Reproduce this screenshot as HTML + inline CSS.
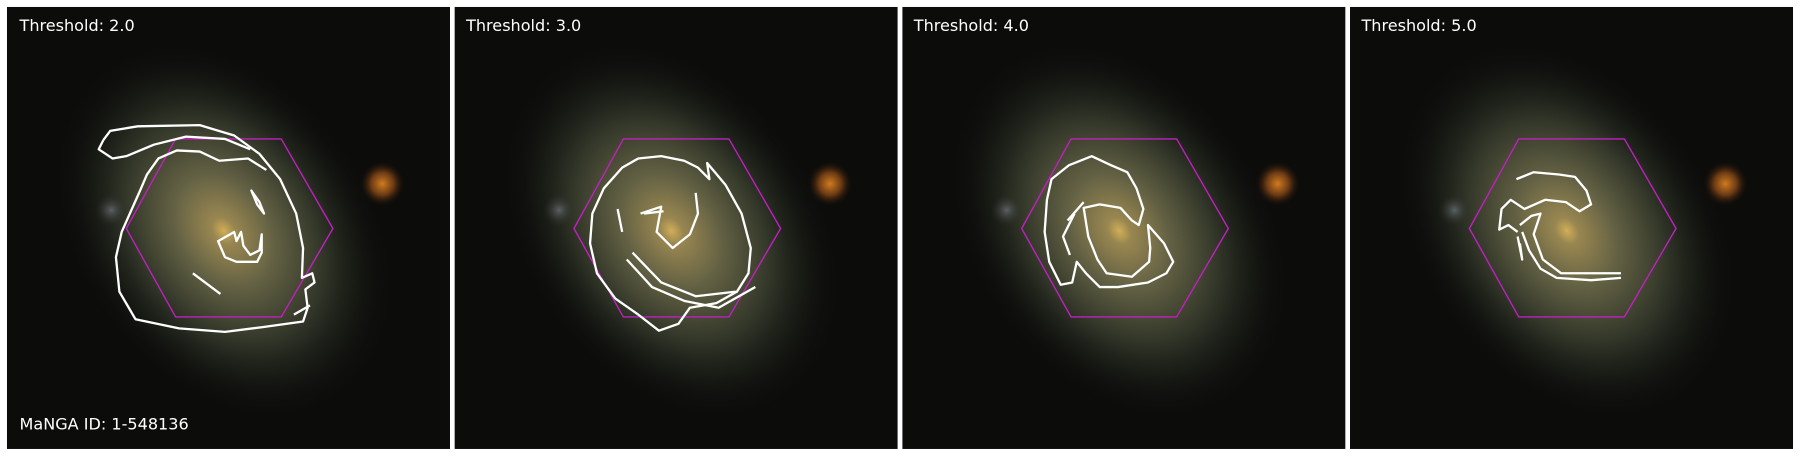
<!DOCTYPE html>
<html><head><meta charset="utf-8"><style>
html,body{margin:0;padding:0;background:#fff;width:1800px;height:457px;overflow:hidden}
svg{display:block}
text{font-family:"DejaVu Sans","Liberation Sans",sans-serif;fill:#fff}
</style></head><body>
<svg width="1800" height="457" viewBox="0 0 1568 398" preserveAspectRatio="none">
<defs>
<clipPath id="pc"><rect x="0" y="0" width="386" height="385"/></clipPath>
<radialGradient id="glow" cx="50%" cy="50%" r="50%">
<stop offset="0" stop-color="#e8c060"/>
<stop offset="0.07" stop-color="#a89458"/>
<stop offset="0.3" stop-color="#6c6a4a"/>
<stop offset="0.6" stop-color="#33382a"/>
<stop offset="1" stop-color="#0e100c" stop-opacity="0"/>
</radialGradient>
<radialGradient id="comp" cx="50%" cy="50%" r="50%">
<stop offset="0" stop-color="#d07a20"/>
<stop offset="0.5" stop-color="#6a3a14"/>
<stop offset="1" stop-color="#100a06" stop-opacity="0"/>
</radialGradient>
<radialGradient id="blue" cx="50%" cy="50%" r="50%">
<stop offset="0" stop-color="#5a6262"/>
<stop offset="1" stop-color="#2a2e28" stop-opacity="0"/>
</radialGradient>
<g id="sky" stroke="none" clip-path="url(#pc)">
<rect x="0" y="0" width="386" height="385" fill="#0c0c0b" stroke="none"/>
<ellipse cx="189" cy="195" rx="180" ry="130" transform="rotate(55 189 195)" fill="url(#glow)" opacity="0.9" stroke="none"/>
<circle cx="91" cy="177" r="14" fill="url(#blue)" stroke="none"/>
<circle cx="327" cy="154" r="20" fill="url(#comp)" stroke="none"/>
<polygon points="104,193 147,115 239,115 284,193 239,270 147,270" fill="none" stroke="#c020c0" stroke-width="1.2"/>
</g>
</defs>
<g fill="none" stroke="#fff" stroke-width="2" stroke-linejoin="round">
<g transform="translate(6,6)">
<use href="#sky"/>
<path d="M84,116 L90,108 L114,104 L168,103 L198,112 L220,128 L238,150 L252,180 L258,210 L257,236 L266,232 L268,240 L260,246 L262,262 L258,274 L222,279 L190,283 L150,280 L112,272 L98,248 L95,218 L100,196 L108,178 L116,160 L122,146 L132,132 L148,125 L168,126 L185,134 L210,132 L226,142"/>
<path d="M84,116 L80,124 L92,132 L104,130 L128,120 L156,113 L190,115 L212,124"/>
<path d="M162,232 L186,250"/><path d="M250,268 L264,260"/>
<path d="M213,160 L220,170 L224,180 L218,172 Z"/>
<path d="M184,204 L198,196 L200,204 L204,196 L206,208 L212,216 L220,212 L222,198 L222,214 L218,222 L200,222 L190,218 Z"/>
</g>
<g transform="translate(396,6)">
<use href="#sky"/>
<path d="M146,140 L160,132 L180,130 L200,134 L212,140 L222,150 L220,136 L236,155 L250,180 L258,210 L256,232 L246,248 L228,258 L205,262 L195,276 L178,282 L160,268 L140,254 L124,232 L118,206 L120,180 L130,158 Z"/>
<path d="M150,220 L172,244 L200,256 L230,262 L262,244"/>
<path d="M155,214 L180,240 L210,252 L245,248"/>
<path d="M162,180 L180,174 L176,196 L190,210 L205,198 L212,180 L210,162"/>
<path d="M142,176 L146,196"/><path d="M165,180 L182,178"/>
</g>
<g transform="translate(786,6)">
<use href="#sky"/>
<path d="M130,150 L145,138 L165,130 L182,138 L196,144 L204,158 L210,176 L206,190 L200,186 L190,175 L172,172 L158,175 L162,200 L170,220 L178,232 L200,235 L215,222 L216,210 L214,190 L228,206 L236,222 L230,232 L214,240 L188,244 L172,244 L160,232 L152,222 L148,240 L138,242 L128,222 L124,196 L126,168 Z"/>
<path d="M150,180 L140,200 L146,216"/>
<path d="M144,186 L158,170"/>
</g>
<g transform="translate(1176,6)">
<use href="#sky"/>
<path d="M145,150 L160,144 L182,146 L196,148 L206,160 L210,172 L200,178 L188,170 L170,168 L152,176 L140,168 L132,176 L130,194 L138,190 L146,196"/>
<path d="M150,196 L156,212 L166,228 L180,236 L210,238 L236,236"/>
<path d="M148,190 L158,182 L166,180 L160,198 L168,220 L184,232 L236,232"/>
<path d="M146,200 L150,220 L148,206"/>
</g>
</g>
<text x="17" y="27" font-size="14">Threshold: 2.0</text>
<text x="406" y="27" font-size="14">Threshold: 3.0</text>
<text x="796" y="27" font-size="14">Threshold: 4.0</text>
<text x="1186" y="27" font-size="14">Threshold: 5.0</text>
<text x="17" y="374" font-size="14">MaNGA ID: 1-548136</text>
</svg>
</body></html>
